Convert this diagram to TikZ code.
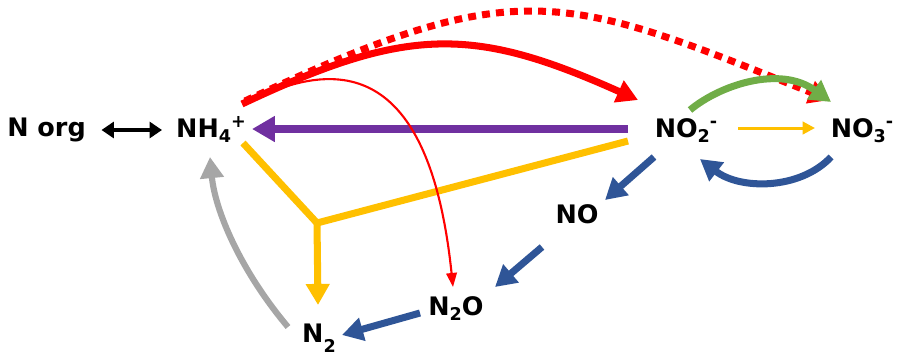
\documentclass[tikz,border=0pt]{standalone}
\usepackage{fontspec}
\setmainfont{DejaVu Sans}
\usetikzlibrary{arrows.meta,calc}
\definecolor{nred}{RGB}{255,0,0}
\definecolor{npurple}{RGB}{112,48,160}
\definecolor{ngold}{RGB}{255,192,0}
\definecolor{nblue}{RGB}{47,85,151}
\definecolor{ngreen}{RGB}{112,173,71}
\definecolor{ngray}{RGB}{166,166,166}
\newcommand\chsub[1]{\raisebox{-0.4ex}{\fontsize{10}{10}\selectfont #1}}
\newcommand\chsup[1]{\raisebox{0.7ex}{\fontsize{10}{10}\selectfont #1}}
\tikzset{species/.style={font=\fontsize{14.5}{17}\selectfont\bfseries, inner sep=0pt, anchor=base}, flow/.style={line width=4pt, -{Triangle[length=12pt,width=13pt]}}, thinflow/.style={line width=1.7pt, -{Triangle[length=7pt,width=7pt]}}}

\begin{document}
\begin{tikzpicture}[x=0.02cm, y=-0.02cm]
\useasboundingbox (0,0) rectangle (898,356);
\node[species] (norg) at (46.5,136) {N org};
\node[species] (nh) at (211,137) {NH\chsub{4}\chsup{+}};
\node[species] (notwo) at (686,137) {NO\chsub{2}\chsup{-}};
\node[species] (nothree) at (862,137) {NO\chsub{3}\chsup{-}};
\node[species] (no) at (577,223) {NO};
\node[species] (ntwoo) at (456,315) {N\chsub{2}O};
\node[species] (ntwo) at (319,342) {N\raisebox{-0.75ex}{\fontsize{10}{10}\selectfont 2}};
\coordinate (fork) at (317,223);
% anammox
\draw[ngold, line width=4pt] ($(nh.base)+(32,6)$) -- (fork) -- ($(notwo.base)+(-58,4)$);
\draw[flow, ngold] (fork) -- ($(ntwo.base)+(-1,-37)$);
% ammonium exchange
\draw[line width=2.3pt, black, {Triangle[length=7pt,width=9pt]}-{Triangle[length=7pt,width=9pt]}] ($(norg.base)+(55,-6)$) -- ($(nh.base)+(-49,-7)$);
\draw[flow, npurple, -{Triangle[length=13pt,width=14pt]}] ($(notwo.base)+(-58,-8)$) -- ($(nh.base)+(41,-8)$);
% nitrification
\draw[flow, nred, dash pattern=on 4.5pt off 3.5pt] ($(nh.base)+(34,-36)$) .. controls +(274,-129) and +(-268,-107) .. ($(nothree.base)+(-32,-37)$);
\draw[flow, nred] ($(nh.base)+(31,-33)$) .. controls +(165,-78) and +(-165,-74) .. ($(notwo.base)+(-48,-37)$);
\draw[nred, line width=1.2pt, -{Triangle[length=8pt,width=6pt]}] ($(nh.base)+(35,-34)$) .. controls +(80,-40) and +(-25,-240) .. ($(ntwoo.base)+(-3,-28)$);
\draw[flow, ngreen] ($(notwo.base)+(4,-27)$) .. controls +(30,-25) and +(-51,-37) .. ($(nothree.base)+(-31,-35)$);
\draw[thinflow, ngold] ($(notwo.base)+(52,-9)$) -- ($(nothree.base)+(-47,-9)$);
% reduction
\draw[flow, nblue] ($(nothree.base)+(-31,20)$) .. controls +(-31,33) and +(40,31) .. ($(notwo.base)+(14,22)$);
\draw[flow, nblue] ($(notwo.base)+(-32,20)$) -- ($(no.base)+(28,-23)$);
\draw[flow, nblue] ($(no.base)+(-35,24)$) -- ($(ntwoo.base)+(39,-28)$);
\draw[flow, nblue] ($(ntwoo.base)+(-36,-2)$) -- ($(ntwo.base)+(23,-7)$);
\draw[flow, ngray, line width=3.5pt] ($(ntwo.base)+(-31,-15)$) .. controls +(-48,-57) and +(5,53) .. ($(nh.base)+(-1,20)$);
\end{tikzpicture}
\end{document}
